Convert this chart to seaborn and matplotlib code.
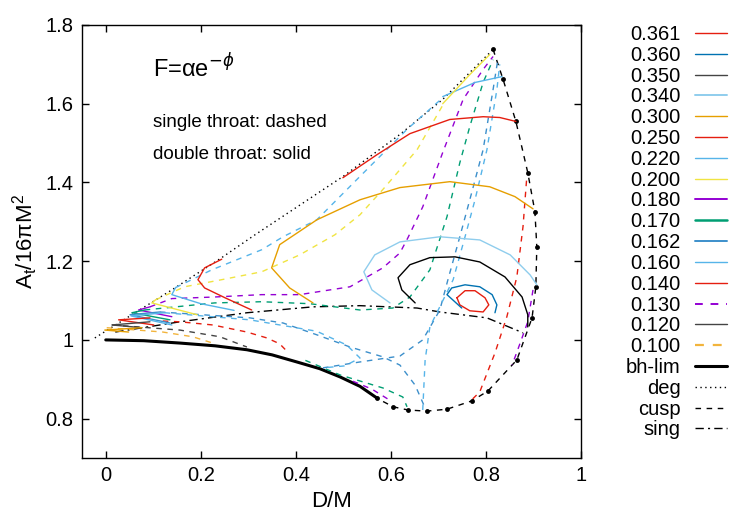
import numpy as np
import matplotlib
matplotlib.use('Agg')
from matplotlib import pyplot as plt
from matplotlib.lines import Line2D
import seaborn as sns

# axis ticks
x_ticks = [0, 0.2, 0.4, 0.6, 0.8, 1.0]
x_tick_labels = ['0', '0.2', '0.4', '0.6', '0.8', '1']
y_ticks = [0.8, 1.0, 1.2, 1.4, 1.6, 1.8]
y_tick_labels = ['0.8', '1', '1.2', '1.4', '1.6', '1.8']

# boundary curves (D/M, A_t/16piM^2)
deg = [(-0.023, 1.005), (0.055, 1.064), (0.139, 1.127), (0.244, 1.209), (0.314, 1.267),
       (0.499, 1.415), (0.619, 1.522), (0.709, 1.611), (0.815, 1.738)]
cusp = [(0.815, 1.738), (0.836, 1.662), (0.863, 1.555), (0.888, 1.425), (0.903, 1.326),
        (0.907, 1.237), (0.905, 1.135), (0.897, 1.056), (0.865, 0.949), (0.804, 0.870),
        (0.770, 0.845), (0.718, 0.824), (0.675, 0.819), (0.636, 0.822), (0.605, 0.830),
        (0.570, 0.852)]
sing = [(0.02, 1.02), (0.156, 1.046), (0.297, 1.069), (0.436, 1.084), (0.535, 1.087),
        (0.655, 1.081), (0.703, 1.071), (0.802, 1.056), (0.878, 1.018)]
bh_lim = [(0.0, 1.0), (0.08, 0.998), (0.156, 0.992), (0.23, 0.985), (0.297, 0.975),
          (0.35, 0.962), (0.402, 0.944), (0.45, 0.927), (0.493, 0.906), (0.535, 0.882),
          (0.571, 0.852)]

# double throat (solid) branches
a361_solid = [(0.739, 1.107), (0.756, 1.125), (0.777, 1.125), (0.798, 1.107), (0.806, 1.089),
              (0.794, 1.071), (0.766, 1.074), (0.745, 1.089), (0.739, 1.107)]
a360_solid = [(0.749, 1.081), (0.718, 1.115), (0.728, 1.132), (0.756, 1.140), (0.787, 1.135),
              (0.813, 1.115), (0.823, 1.089), (0.819, 1.069)]
a350_solid = [(0.651, 1.094), (0.623, 1.127), (0.615, 1.158), (0.640, 1.191), (0.682, 1.209),
              (0.735, 1.211), (0.787, 1.198), (0.840, 1.160), (0.876, 1.109), (0.888, 1.064),
              (0.888, 1.033)]
a340_solid = [(0.598, 1.094), (0.560, 1.127), (0.543, 1.173), (0.566, 1.216), (0.619, 1.249),
              (0.703, 1.262), (0.787, 1.254), (0.851, 1.216), (0.893, 1.165), (0.907, 1.140)]
a300_solid = [(0.436, 1.094), (0.387, 1.132), (0.349, 1.183), (0.366, 1.242), (0.444, 1.305),
              (0.535, 1.356), (0.619, 1.387), (0.724, 1.402), (0.808, 1.389), (0.861, 1.364),
              (0.899, 1.333)]
a250_solid_low = [(0.307, 1.076), (0.251, 1.107), (0.208, 1.132), (0.194, 1.153), (0.208, 1.183),
                  (0.244, 1.205)]
a250_solid_up = [(0.499, 1.412), (0.570, 1.470), (0.640, 1.524), (0.724, 1.560), (0.794, 1.567),
                 (0.829, 1.565), (0.863, 1.555)]
a220_solid_low = [(0.27, 1.075), (0.20, 1.092), (0.139, 1.115), (0.147, 1.133)]
a220_solid_up = [(0.709, 1.618), (0.777, 1.654), (0.834, 1.669)]
a200_solid_low = [(0.105, 1.102), (0.097, 1.094), (0.192, 1.064)]
a200_solid_up = [(0.709, 1.600), (0.766, 1.674), (0.808, 1.725)]
a180_solid = [(0.093, 1.084), (0.069, 1.076), (0.139, 1.059)]
a170_solid = [(0.082, 1.076), (0.055, 1.069), (0.135, 1.051)]
a162_solid = [(0.114, 1.071), (0.051, 1.064), (0.135, 1.043)]
a160_solid = [(0.124, 1.069), (0.053, 1.061), (0.139, 1.038)]
a140_solid = [(0.093, 1.056), (0.027, 1.051), (0.101, 1.038)]
a120_solid = [(0.093, 1.046), (0.013, 1.038), (0.076, 1.031)]
a100_solid = [(0.076, 1.031), (-0.002, 1.025), (0.048, 1.020)]

# single throat (dashed) branches
a250_dash = [(0.772, 0.850), (0.787, 0.868), (0.819, 0.967), (0.844, 1.059), (0.865, 1.160),
             (0.878, 1.288), (0.886, 1.415)]
a220_dash = [(0.147, 1.133), (0.223, 1.178), (0.328, 1.229), (0.373, 1.262), (0.444, 1.305),
             (0.528, 1.407), (0.634, 1.535), (0.709, 1.615)]
a200_dash = [(0.105, 1.102), (0.166, 1.135), (0.244, 1.153), (0.328, 1.173), (0.408, 1.216),
             (0.482, 1.267), (0.535, 1.318), (0.583, 1.382), (0.655, 1.483), (0.709, 1.596)]
a180_dash = [(0.093, 1.084), (0.139, 1.105), (0.229, 1.109), (0.328, 1.115), (0.408, 1.115),
             (0.514, 1.135), (0.583, 1.183), (0.619, 1.221), (0.636, 1.260), (0.667, 1.338),
             (0.709, 1.476), (0.752, 1.611), (0.794, 1.687), (0.815, 1.720)]
a170_dash = [(0.082, 1.076), (0.229, 1.094), (0.328, 1.097), (0.429, 1.092), (0.535, 1.076),
             (0.604, 1.081), (0.640, 1.109), (0.682, 1.178), (0.718, 1.313), (0.745, 1.450),
             (0.766, 1.542), (0.794, 1.654), (0.815, 1.712)]
a170_dash_low = [(0.42, 0.948), (0.493, 0.911), (0.583, 0.878), (0.625, 0.855), (0.634, 0.830)]
a162_dash_low = [(0.114, 1.071), (0.303, 1.056), (0.373, 1.043), (0.444, 1.013), (0.514, 0.982),
                 (0.583, 0.957), (0.619, 0.936), (0.651, 0.885), (0.672, 0.827)]
a162_dash_up = [(0.457, 0.929), (0.535, 0.944), (0.619, 0.959), (0.667, 1.000), (0.703, 1.076),
                (0.720, 1.153), (0.745, 1.262), (0.766, 1.356), (0.794, 1.483), (0.815, 1.636),
                (0.825, 1.712)]
a160_dash_low = [(0.124, 1.069), (0.303, 1.051), (0.444, 1.022), (0.507, 0.987), (0.535, 0.954),
                 (0.503, 0.934), (0.457, 0.929)]
a160_dash_up = [(0.667, 0.822), (0.672, 0.949), (0.682, 1.033), (0.731, 1.153), (0.756, 1.262),
                (0.777, 1.356), (0.802, 1.483), (0.823, 1.636), (0.829, 1.700)]
a140_dash = [(0.12, 1.048), (0.156, 1.046), (0.225, 1.038), (0.297, 1.020), (0.339, 1.005),
             (0.366, 0.990), (0.383, 0.969)]
a130_dash_right = [(0.899, 1.127), (0.888, 1.046), (0.872, 0.992), (0.855, 0.936)]
a130_dash_low = [(0.52, 0.895), (0.56, 0.875), (0.60, 0.845)]
a120_dash = [(0.013, 1.038), (0.156, 1.025), (0.240, 1.008), (0.297, 0.982)]
a100_dash = [(0.002, 1.031), (0.120, 1.020), (0.183, 1.008), (0.225, 0.992)]

RED = '#E51E10'
BLUE = '#0072B2'
SKY = '#56B4E9'
PALE = '#8FCDED'
ORANGE = '#E69F00'
YELLOW = '#F0E442'
PURPLE = '#9400D3'
TEAL = '#009E73'
STEEL = '#3C8FCB'
GRAY = '#444444'
LORANGE = '#F2B43C'

sns.set_style('ticks')
plt.rcParams['font.family'] = ['Liberation Sans', 'DejaVu Sans']
plt.rcParams['mathtext.fontset'] = 'dejavusans'
plt.rcParams['text.color'] = 'black'
plt.rcParams['axes.labelcolor'] = 'black'
plt.rcParams['xtick.color'] = 'black'
plt.rcParams['ytick.color'] = 'black'

fig = plt.figure(figsize=(7.5, 5.25), dpi=100)
ax = fig.add_axes([82 / 750, 1 - 458 / 525, 499 / 750, 433 / 525])

DASH = (4, 4)


def draw(pts, color, dashed=False, lw=1.0, dots=None, marker=None):
    d = np.array(pts)
    sns.lineplot(x=d[:, 0], y=d[:, 1], sort=False, estimator=None, ax=ax,
                 color=color, linewidth=lw, marker=marker, markersize=3.5,
                 markeredgewidth=0)
    line = ax.lines[-1]
    if dashed:
        line.set_dashes(DASH)
    if dots is not None:
        line.set_dashes(dots)


draw(deg, 'black', dots=(1, 2.5))
draw(cusp, 'black', dots=(4, 4), marker='o')
draw(sing, 'black', dots=(6, 3, 1.5, 3))
draw(bh_lim, 'black', lw=2.2)

solid_curves = [(a361_solid, RED), (a360_solid, BLUE), (a350_solid, 'black'),
                (a340_solid, PALE), (a300_solid, ORANGE), (a250_solid_low, RED),
                (a250_solid_up, RED), (a220_solid_low, SKY), (a220_solid_up, SKY),
                (a200_solid_low, YELLOW), (a200_solid_up, YELLOW), (a180_solid, PURPLE),
                (a170_solid, TEAL), (a162_solid, STEEL), (a160_solid, SKY),
                (a140_solid, RED), (a120_solid, GRAY), (a100_solid, ORANGE)]
dashed_curves = [(a250_dash, RED), (a220_dash, SKY), (a200_dash, YELLOW),
                 (a180_dash, PURPLE), (a170_dash, TEAL), (a170_dash_low, TEAL),
                 (a162_dash_low, STEEL), (a162_dash_up, STEEL), (a160_dash_low, SKY),
                 (a160_dash_up, SKY), (a140_dash, RED), (a130_dash_right, PURPLE),
                 (a130_dash_low, PURPLE), (a120_dash, GRAY), (a100_dash, LORANGE)]
for pts, c in dashed_curves:
    draw(pts, c, dashed=True)
for pts, c in solid_curves:
    draw(pts, c)

ax.set_xlim(-0.05, 1.0)
ax.set_ylim(0.7, 1.8)
ax.set_xticks(x_ticks)
ax.set_xticklabels(x_tick_labels)
ax.set_yticks(y_ticks)
ax.set_yticklabels(y_tick_labels)
ax.tick_params(direction='in', length=5, width=1, top=True, right=True,
               labelsize=14.5, colors='black', pad=6)
for s in ax.spines.values():
    s.set_visible(True)
    s.set_linewidth(1.0)
    s.set_color('black')
ax.set_xlabel('D/M', fontsize=16, labelpad=4)
ax.set_ylabel('A$_{\\mathregular{t}}$/16πM$^{\\mathregular{2}}$', fontsize=16, labelpad=4)

ax.text(0.142, 0.901, 'F=αe$^{-\\phi}$', transform=ax.transAxes, fontsize=17,
        va='center', ha='left')
ax.text(0.142, 0.774, 'single throat: dashed', transform=ax.transAxes, fontsize=13.5,
        va='center', ha='left')
ax.text(0.142, 0.700, 'double throat: solid', transform=ax.transAxes, fontsize=13.5,
        va='center', ha='left')

legend_labels = ['0.361', '0.360', '0.350', '0.340', '0.300', '0.250', '0.220', '0.200',
                 '0.180', '0.170', '0.162', '0.160', '0.140', '0.130', '0.120', '0.100',
                 'bh-lim', 'deg', 'cusp', 'sing']
legend_colors = [RED, BLUE, GRAY, PALE, ORANGE, RED, SKY, YELLOW, PURPLE, TEAL, STEEL, SKY,
                 RED, PURPLE, GRAY, LORANGE, 'black', 'black', 'black', 'black']
legend_dashes = [None] * 13 + [DASH, None, DASH, None, (1, 2.5), (4, 4), (6, 3, 1.5, 3)]
legend_widths = [1, 1, 1, 1.4, 1, 1, 1, 1, 1.4, 1.8, 1.4, 1, 1, 1.4, 1, 1.6, 2.2, 1, 1, 1]
handles = []
for c, dsh, w in zip(legend_colors, legend_dashes, legend_widths):
    h = Line2D([], [], color=c, linewidth=w)
    if dsh is not None:
        h.set_dashes(dsh)
    handles.append(h)
fig.legend(handles, legend_labels, loc='upper right', bbox_to_anchor=(727 / 750, 1 - 25 / 525),
           frameon=False, markerfirst=False, fontsize=14.5, labelspacing=0.09,
           handlelength=1.6, handletextpad=0.7, borderpad=0, borderaxespad=0)

fig.savefig('out.png', dpi=100)
